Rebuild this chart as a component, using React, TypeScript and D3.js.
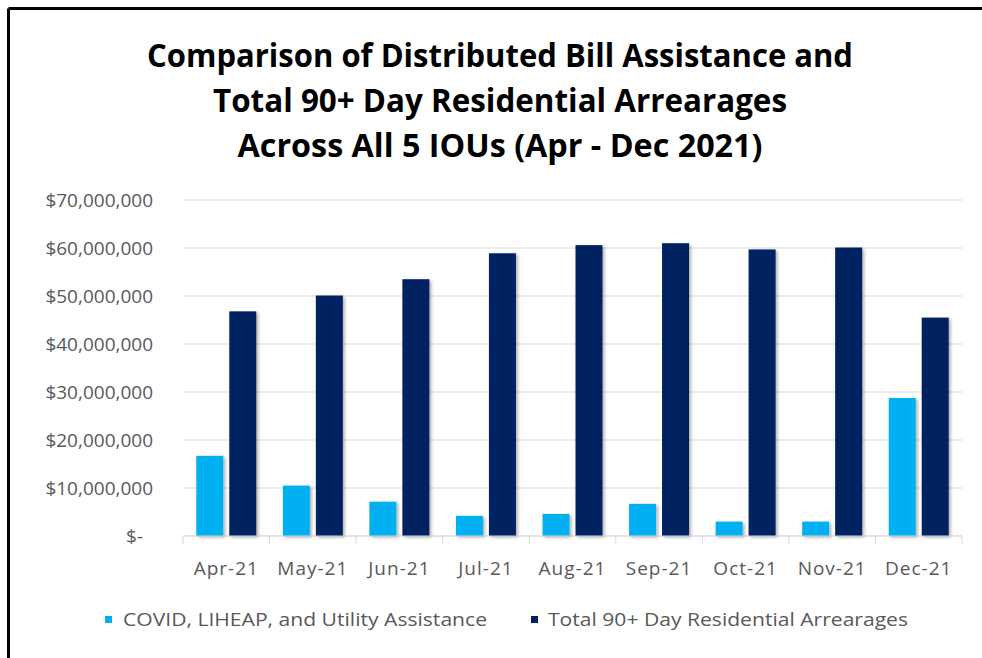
import React from "react";
import * as d3 from "d3";

const categories = ["Apr-21", "May-21", "Jun-21", "Jul-21", "Aug-21", "Sep-21", "Oct-21", "Nov-21", "Dec-21"];
const assistance = [16700000, 10500000, 7150000, 4200000, 4600000, 6700000, 3000000, 3000000, 28750000];
const arrearages = [46800000, 50100000, 53500000, 58900000, 60600000, 61000000, 59700000, 60100000, 45500000];
const seriesNames = ["COVID, LIHEAP, and Utility Assistance", "Total 90+ Day Residential Arrearages"];
const seriesColors = ["#00B0F0", "#002060"];
const yTicks = [0, 10000000, 20000000, 30000000, 40000000, 50000000, 60000000, 70000000];
const titleLines = [
  "Comparison of Distributed Bill Assistance and",
  "Total 90+ Day Residential Arrearages",
  "Across All 5 IOUs (Apr - Dec 2021)",
];

const W = 982;
const H = 658;
const font = "'Open Sans', 'Noto Sans', sans-serif";

export default function App() {
  const left = 183;
  const right = 962;
  const top = 200;
  const bottom = 536;

  const x0 = d3.scaleBand<string>().domain(categories).range([left, right]).padding(0);
  const bw = x0.bandwidth();
  const pad = 13.3;
  const x1 = d3.scaleBand<number>().domain([0, 1]).range([pad, bw - pad]).paddingInner(0.182);
  const y = d3.scaleLinear().domain([0, 70000000]).range([bottom, top]);
  const values = [assistance, arrearages];

  const fmt = (v: number) => (v === 0 ? "$-" : "$" + d3.format(",")(v));

  const titleWidths = [706, 574, 525];
  const titleBaselines = [67, 112, 157];

  return (
    <svg width={W} height={H} style={{ position: "absolute", left: 0, top: 0, background: "#fff" }}>
      <defs>
        <filter id="shadow" x="-20%" y="-5%" width="150%" height="115%">
          <feDropShadow dx="2" dy="1.5" stdDeviation="1.5" floodColor="#000" floodOpacity="0.3" />
        </filter>
      </defs>
      <rect x={0} y={0} width={W} height={H} fill="#fff" />
      {/* frame */}
      <line x1={8.5} y1={8.5} x2={W} y2={8.5} stroke="#000" strokeWidth={3} />
      <line x1={8.5} y1={8.5} x2={8.5} y2={H} stroke="#000" strokeWidth={3} />

      {/* title */}
      {titleLines.map((t, i) => (
        <text
          key={i}
          x={500}
          y={titleBaselines[i]}
          textAnchor="middle"
          fontFamily={font}
          fontWeight="bold"
          fontSize={32}
          fill="#000"
          textLength={titleWidths[i]}
          lengthAdjust="spacingAndGlyphs"
        >
          {t}
        </text>
      ))}

      {/* gridlines */}
      {yTicks.map((t) => (
        <line key={t} x1={left} x2={right} y1={y(t)} y2={y(t)} stroke="#d9d9d9" strokeWidth={1} />
      ))}
      {/* y labels */}
      {yTicks.map((t) => (
        <text
          key={"l" + t}
          x={t === 0 ? 143 : 153}
          y={y(t)}
          dy="0.35em"
          textAnchor="end"
          fontFamily={font}
          fontSize={19}
          fill="#595959"
        >
          {fmt(t)}
        </text>
      ))}

      {/* bars */}
      <g filter="url(#shadow)">
        {categories.map((c, i) =>
          values.map((s, k) => (
            <rect
              key={c + k}
              x={(x0(c) as number) + (x1(k) as number)}
              y={y(s[i])}
              width={x1.bandwidth()}
              height={bottom - y(s[i])}
              fill={seriesColors[k]}
            />
          ))
        )}
      </g>

      {/* x axis */}
      <line x1={left} x2={right} y1={bottom} y2={bottom} stroke="#d9d9d9" strokeWidth={1} />
      {categories.map((c) => (
        <line key={"t" + c} x1={x0(c)} x2={x0(c)} y1={bottom} y2={bottom + 8} stroke="#d9d9d9" />
      ))}
      <line x1={right} x2={right} y1={bottom} y2={bottom + 8} stroke="#d9d9d9" />
      {categories.map((c) => (
        <text
          key={"x" + c}
          x={(x0(c) as number) + bw / 2}
          y={568}
          dy="0.35em"
          textAnchor="middle"
          fontFamily={font}
          fontSize={19}
          letterSpacing={1}
          fill="#595959"
        >
          {c}
        </text>
      ))}

      {/* legend */}
      {[
        { sx: 105, tx: 123, tw: 364 },
        { sx: 531, tx: 548, tw: 360 },
      ].map((l, k) => (
        <g key={"lg" + k}>
          <rect x={l.sx} y={616} width={7} height={7} fill={seriesColors[k]} />
          <text
            x={l.tx}
            y={620}
            dy="0.35em"
            fontFamily={font}
            fontSize={18}
            fill="#595959"
            textLength={l.tw}
            lengthAdjust="spacingAndGlyphs"
          >
            {seriesNames[k]}
          </text>
        </g>
      ))}
    </svg>
  );
}
